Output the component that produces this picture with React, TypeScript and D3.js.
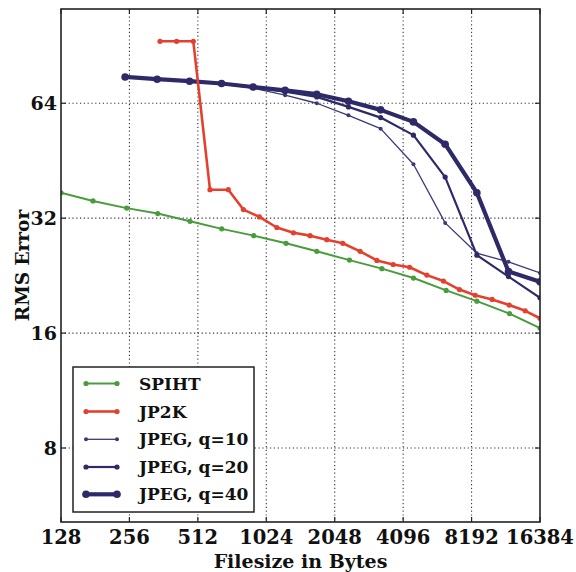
import React from "react";
import * as d3 from "d3";

const spihtSize = [128, 177, 249, 341, 473, 652, 902, 1251, 1708, 2378, 3302, 4548, 6332, 8644, 12028, 16384];
const spihtRms = [37.3, 35.5, 34.0, 32.9, 31.4, 30.0, 28.8, 27.5, 26.2, 24.85, 23.6, 22.3, 20.7, 19.4, 18.0, 16.5];

const jp2kSize = [349, 413, 489, 579, 697, 812, 955, 1139, 1348, 1596, 1890, 2222, 2649, 3139, 3702, 4375, 5207, 6161, 7245, 8498, 10093, 11990, 14105, 16384];
const jp2kRms = [93, 93, 93, 38.0, 38.0, 33.7, 32.25, 30.25, 29.3, 28.8, 28.1, 27.5, 26.2, 24.8, 24.2, 23.8, 22.7, 21.9, 20.8, 20.1, 19.6, 18.95, 18.3, 17.5];

const jpegSize = [245, 339, 471, 651, 896, 1239, 1708, 2354, 3261, 4547, 6269, 8643, 11909, 16384];
const jpegQ10 = [75.0, 74.0, 72.9, 71.8, 70.1, 67.2, 64.0, 59.5, 54.9, 44.3, 31.1, 25.9, 24.6, 23.0];
const jpegQ20 = [75.0, 74.0, 73.1, 72.0, 70.5, 68.6, 66.5, 62.6, 58.7, 52.8, 41.0, 25.6, 22.5, 19.8];
const jpegQ40 = [75.0, 74.0, 73.1, 72.1, 70.6, 69.2, 67.6, 64.8, 61.5, 57.2, 50.0, 37.3, 23.2, 21.8];

const xTicks = [128, 256, 512, 1024, 2048, 4096, 8192, 16384];
const yTicks = [8, 16, 32, 64];

const xLabel = "Filesize in Bytes";
const yLabel = "RMS Error";

const W = 576;
const H = 572;
const L = 61, R = 540, T = 9, B = 522;
const FONT = "'DejaVu Serif', serif";

const NAVY = "#2e2a68";

type Series = { name: string; sizes: number[]; vals: number[]; color: string; lw: number; mr: number };

const series: Series[] = [
  { name: "SPIHT", sizes: spihtSize, vals: spihtRms, color: "#4a9b3b", lw: 2, mr: 2.6 },
  { name: "JP2K", sizes: jp2kSize, vals: jp2kRms, color: "#e4402e", lw: 2.6, mr: 2.6 },
  { name: "JPEG, q=10", sizes: jpegSize, vals: jpegQ10, color: "#3a3878", lw: 1.3, mr: 2.0 },
  { name: "JPEG, q=20", sizes: jpegSize, vals: jpegQ20, color: NAVY, lw: 2.2, mr: 2.6 },
  { name: "JPEG, q=40", sizes: jpegSize, vals: jpegQ40, color: NAVY, lw: 4.2, mr: 3.8 },
];

const drawOrder = [0, 2, 3, 4, 1];

export default function App() {
  const x = d3.scaleLog().base(2).domain([128, 16384]).range([L, R]);
  const y = d3.scaleLog().base(2).domain([5.12, 113]).range([B, T]);
  const line = d3.line<[number, number]>().x((d) => x(d[0])).y((d) => y(d[1]));

  const legX = 73, legY = 367, legW = 181, legH = 145;
  const rowY = [383.5, 411.5, 439.3, 467, 494.3];

  return (
    <svg width={W} height={H} style={{ position: "absolute", left: 0, top: 0, background: "#fff" }}>
      <defs>
        <clipPath id="plotclip">
          <rect x={L} y={T} width={R - L} height={B - T} />
        </clipPath>
      </defs>
      <rect x={0} y={0} width={W} height={H} fill="#fff" />
      {/* grid */}
      <g stroke="#333" strokeWidth={1.1} strokeDasharray="1.2,2.6">
        {xTicks.slice(1, -1).map((t) => (
          <line key={"gx" + t} x1={x(t)} x2={x(t)} y1={T} y2={B} />
        ))}
        {yTicks.map((t) => (
          <line key={"gy" + t} x1={L} x2={R} y1={y(t)} y2={y(t)} />
        ))}
      </g>
      {/* series */}
      <g clipPath="url(#plotclip)">
        {drawOrder.map((i) => {
          const s = series[i];
          const pts: [number, number][] = s.sizes.map((v, k) => [v, s.vals[k]]);
          return (
            <g key={s.name}>
              <path d={line(pts) || ""} fill="none" stroke={s.color} strokeWidth={s.lw} strokeLinejoin="round" />
              {pts.map((p, k) => (
                <circle key={k} cx={x(p[0])} cy={y(p[1])} r={s.mr} fill={s.color} />
              ))}
            </g>
          );
        })}
      </g>
      {/* ticks */}
      <g stroke="#222" strokeWidth={1.2}>
        {xTicks.map((t) => (
          <g key={"tx" + t}>
            <line x1={x(t)} x2={x(t)} y1={B} y2={B - 5} />
            <line x1={x(t)} x2={x(t)} y1={T} y2={T + 5} />
          </g>
        ))}
        {yTicks.map((t) => (
          <g key={"ty" + t}>
            <line x1={L} x2={L + 5} y1={y(t)} y2={y(t)} />
            <line x1={R} x2={R - 5} y1={y(t)} y2={y(t)} />
          </g>
        ))}
      </g>
      {/* frame */}
      <rect x={L} y={T} width={R - L} height={B - T} fill="none" stroke="#222" strokeWidth={1.6} />
      {/* tick labels */}
      <g fontFamily={FONT} fontWeight="bold" fontSize={19.5} fill="#111">
        {xTicks.map((t) => (
          <text key={"lx" + t} x={x(t)} y={544} textAnchor="middle">
            {t}
          </text>
        ))}
        {yTicks.map((t) => (
          <text key={"ly" + t} x={57} y={y(t) + 7} textAnchor="end" fontSize={19}>
            {t}
          </text>
        ))}
      </g>
      {/* axis labels */}
      <text x={(L + R) / 2} y={568} textAnchor="middle" fontFamily={FONT} fontWeight="bold" fontSize={19} fill="#111">
        {xLabel}
      </text>
      <text
        transform={`translate(29,${(T + B) / 2}) rotate(-90)`}
        textAnchor="middle"
        fontFamily={FONT}
        fontWeight="bold"
        fontSize={18.5}
        fill="#111"
      >
        {yLabel}
      </text>
      {/* legend */}
      <g>
        <rect x={legX} y={legY} width={legW} height={legH} fill="#fff" stroke="#222" strokeWidth={1.5} />
        {series.map((s, i) => (
          <g key={"leg" + s.name}>
            <line x1={86} x2={117} y1={rowY[i]} y2={rowY[i]} stroke={s.color} strokeWidth={s.lw} />
            <circle cx={86} cy={rowY[i]} r={s.mr} fill={s.color} />
            <circle cx={117} cy={rowY[i]} r={s.mr} fill={s.color} />
            <text x={139} y={rowY[i] + 6} fontFamily={FONT} fontWeight="bold" fontSize={17} fill="#111">
              {s.name}
            </text>
          </g>
        ))}
      </g>
    </svg>
  );
}
